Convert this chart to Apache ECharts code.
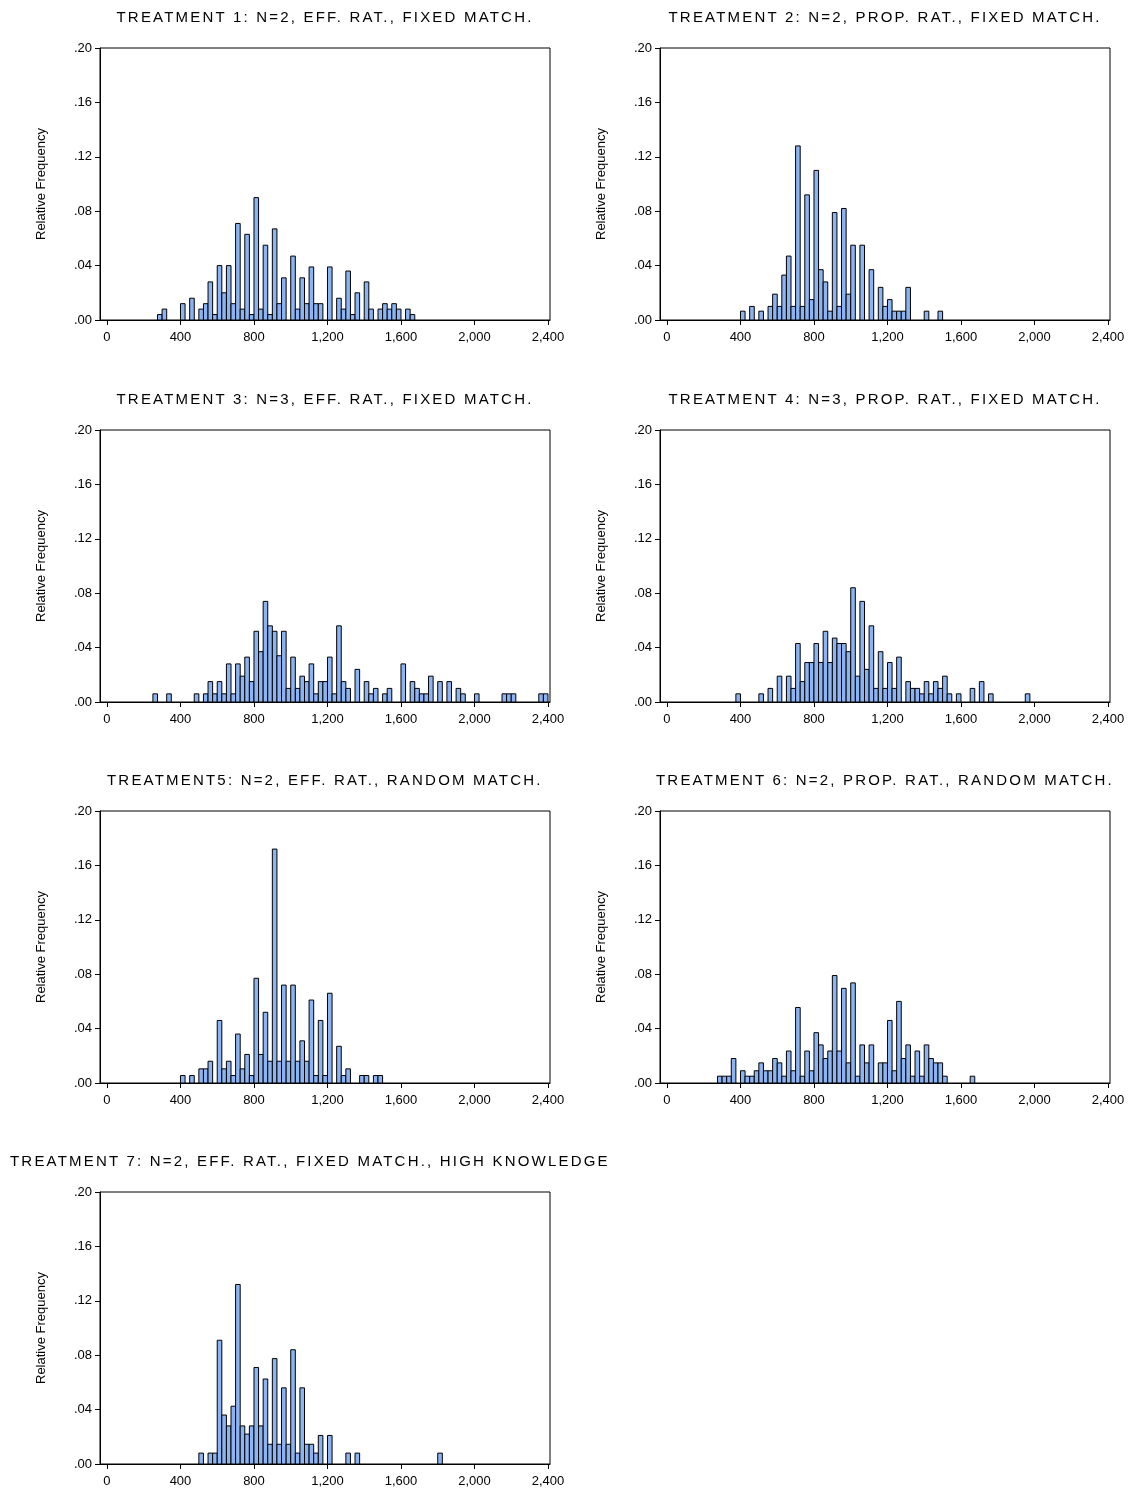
<!DOCTYPE html>
<html>
<head>
<meta charset="utf-8">
<script src="https://cdn.jsdelivr.net/npm/echarts@6/dist/echarts.min.js"></script>
<style>
  html, body { margin: 0; padding: 0; background: #fff; }
  #wrap { position: relative; width: 1135px; height: 1490px; }
  #main { width: 1135px; height: 1490px; }
  .ttl { position: absolute; font-family: "Liberation Sans", Arial, sans-serif; font-size: 15px;
         letter-spacing: 2.2px; color: #000; white-space: nowrap; }
</style>
</head>
<body>
<div id="wrap"><div id="main"></div></div>
<script>
// histogram bin width (units on the x axis)
var binWidth = 25;
var xTicks = [0, 400, 800, 1200, 1600, 2000, 2400];

var titles = [
  'TREATMENT 1: N=2, EFF. RAT., FIXED MATCH.',
  'TREATMENT 2: N=2, PROP. RAT., FIXED MATCH.',
  'TREATMENT 3: N=3, EFF. RAT., FIXED MATCH.',
  'TREATMENT 4: N=3, PROP. RAT., FIXED MATCH.',
  'TREATMENT5: N=2, EFF. RAT., RANDOM MATCH.',
  'TREATMENT 6: N=2, PROP. RAT., RANDOM MATCH.',
  'TREATMENT 7: N=2, EFF. RAT., FIXED MATCH., HIGH KNOWLEDGE'
];

// first bin index of each panel, then relative frequencies bin by bin
var start1 = 11;
var freq1 = [.004,.008,0,0,0,.012,0,.016,0,.008,.012,.028,.004,.04,.02,.04,.012,.071,.008,.063,.004,.09,.008,.055,.004,.067,.012,.031,0,.047,.008,.031,.012,.039,.012,.012,0,.039,0,.016,.008,.036,.004,.02,0,.028,.008,0,.008,.012,.008,.012,.008,0,.008,.004];
var start2 = 16;
var freq2 = [.0065,0,.010,0,.0065,0,.010,.019,.010,.033,.047,.010,.128,.010,.092,.015,.110,.037,.028,.0065,.079,.010,.082,.019,.055,0,.055,0,.037,0,.024,.010,.015,.0065,.0065,.0065,.024,0,0,0,.0065,0,0,.0065];
var start3 = 10;
var freq3 = [.006,0,0,.006,0,0,0,0,0,.006,0,.006,.015,.006,.015,.006,.028,.006,.028,.019,.033,.015,.052,.037,.074,.056,.052,.034,.052,.01,.033,.01,.019,.015,.028,.006,.015,.015,.033,.006,.056,.015,.01,0,.024,0,.015,.006,.01,0,.006,.01,0,0,.028,0,.015,.01,.006,.006,.019,0,.015,0,.015,0,.01,.006,0,0,.006,0,0,0,0,0,.006,.006,.006,0,0,0,0,0,.006,.006];
var start4 = 15;
var freq4 = [.006,0,0,0,0,.006,0,.01,0,.019,0,.019,.01,.043,.015,.029,.029,.043,.029,.052,.029,.047,.043,.043,.037,.084,.019,.074,.024,.056,.01,.037,.01,.029,.01,.033,0,.015,.01,.01,.006,.015,.006,.015,.01,.019,.006,0,.006,0,0,.01,0,.015,0,.006,0,0,0,0,0,0,0,.006];
var start5 = 16;
var freq5 = [.0055,0,.0055,0,.0104,.0104,.016,0,.046,.0104,.016,.0055,.036,.0104,.021,.0055,.077,.021,.052,.016,.172,.016,.072,.016,.072,.016,.031,.016,.061,.0055,.046,.0055,.066,0,.027,.0055,.0104,0,0,.0055,.0055,0,.0055,.0055];
var start6 = 11;
var freq6 = [.005,.005,.005,.018,0,.009,.005,.005,.009,.0148,.009,.009,.018,.0148,.005,.0235,.009,.0555,.005,.0235,.009,.037,.028,.018,.0235,.079,.0235,.0696,.0148,.0736,.005,.028,.0148,.028,0,.0148,.0148,.046,.009,.060,.018,.028,.005,.0235,.005,.028,.018,.0148,.0148,.005,0,0,0,0,0,.005];
var start7 = 20;
var freq7 = [.008,0,.008,.008,.091,.036,.028,.0425,.132,.028,.022,.028,.071,.028,.0625,.0145,.0775,.0145,.056,.0145,.084,.008,.056,.0145,.0145,.008,.021,0,.021,0,0,0,.008,0,.008,0,0,0,0,0,0,0,0,0,0,0,0,0,0,0,0,0,.008];

var starts = [start1, start2, start3, start4, start5, start6, start7];
var freqs = [freq1, freq2, freq3, freq4, freq5, freq6, freq7];

var font = '"Liberation Sans", Arial, sans-serif';
var rowTops = [48, 430, 811, 1192];
var colLefts = [100, 660];
var plotW = 450, plotH = 272;

var option = { animation: false, grid: [], xAxis: [], yAxis: [], series: [] };
var wrap = document.getElementById('wrap');

freqs.forEach(function (freq, i) {
  var left = colLefts[i % 2];
  var top = rowTops[Math.floor(i / 2)];
  var data = [];
  freq.forEach(function (v, j) {
    if (v > 0) data.push([starts[i] + j, v]);
  });

  // panel title (html so letter spacing matches the original)
  var t = document.createElement('div');
  t.className = 'ttl';
  t.textContent = titles[i];
  t.style.top = (top - 40) + 'px';
  wrap.appendChild(t);
  if (i === 6) {
    t.style.left = '10px';
  } else {
    t.style.left = (left + plotW / 2 - t.offsetWidth / 2) + 'px';
  }

  option.grid.push({
    left: left, top: top, width: plotW, height: plotH,
    show: true, borderColor: '#000', borderWidth: 1, backgroundColor: '#fff'
  });
  option.xAxis.push({
    gridIndex: i, type: 'value', min: -38, max: 2411,
    splitLine: { show: false },
    axisLine: { onZero: false, lineStyle: { color: '#000' } },
    axisTick: { customValues: xTicks, length: 5, lineStyle: { color: '#000' } },
    axisLabel: {
      customValues: xTicks, color: '#000', fontFamily: font, fontSize: 13, margin: 11,
      formatter: function (v) { return v.toLocaleString('en-US'); }
    }
  });
  option.yAxis.push({
    gridIndex: i, type: 'value', min: 0, max: 0.2, interval: 0.04,
    name: 'Relative Frequency', nameLocation: 'middle', nameGap: 52,
    nameTextStyle: { fontFamily: font, fontSize: 13, color: '#000' },
    splitLine: { show: false },
    axisLine: { show: true, onZero: false, lineStyle: { color: '#000' } },
    axisTick: { show: true, length: 5, lineStyle: { color: '#000' } },
    axisLabel: {
      color: '#000', fontFamily: font, fontSize: 13, margin: 8,
      formatter: function (v) { return v.toFixed(2).replace(/^0/, ''); }
    }
  });
  option.series.push({
    type: 'custom', xAxisIndex: i, yAxisIndex: i, data: data,
    renderItem: function (params, api) {
      var k = api.value(0);
      var p0 = api.coord([k * binWidth, api.value(1)]);
      var p1 = api.coord([(k + 1) * binWidth, 0]);
      return {
        type: 'rect',
        shape: { x: p0[0], y: p0[1], width: p1[0] - p0[0], height: p1[1] - p0[1] },
        style: { fill: '#8cb4f2', stroke: '#000', lineWidth: 1 }
      };
    }
  });
});

var chart = echarts.init(document.getElementById('main'));
chart.setOption(option);
</script>
</body>
</html>
